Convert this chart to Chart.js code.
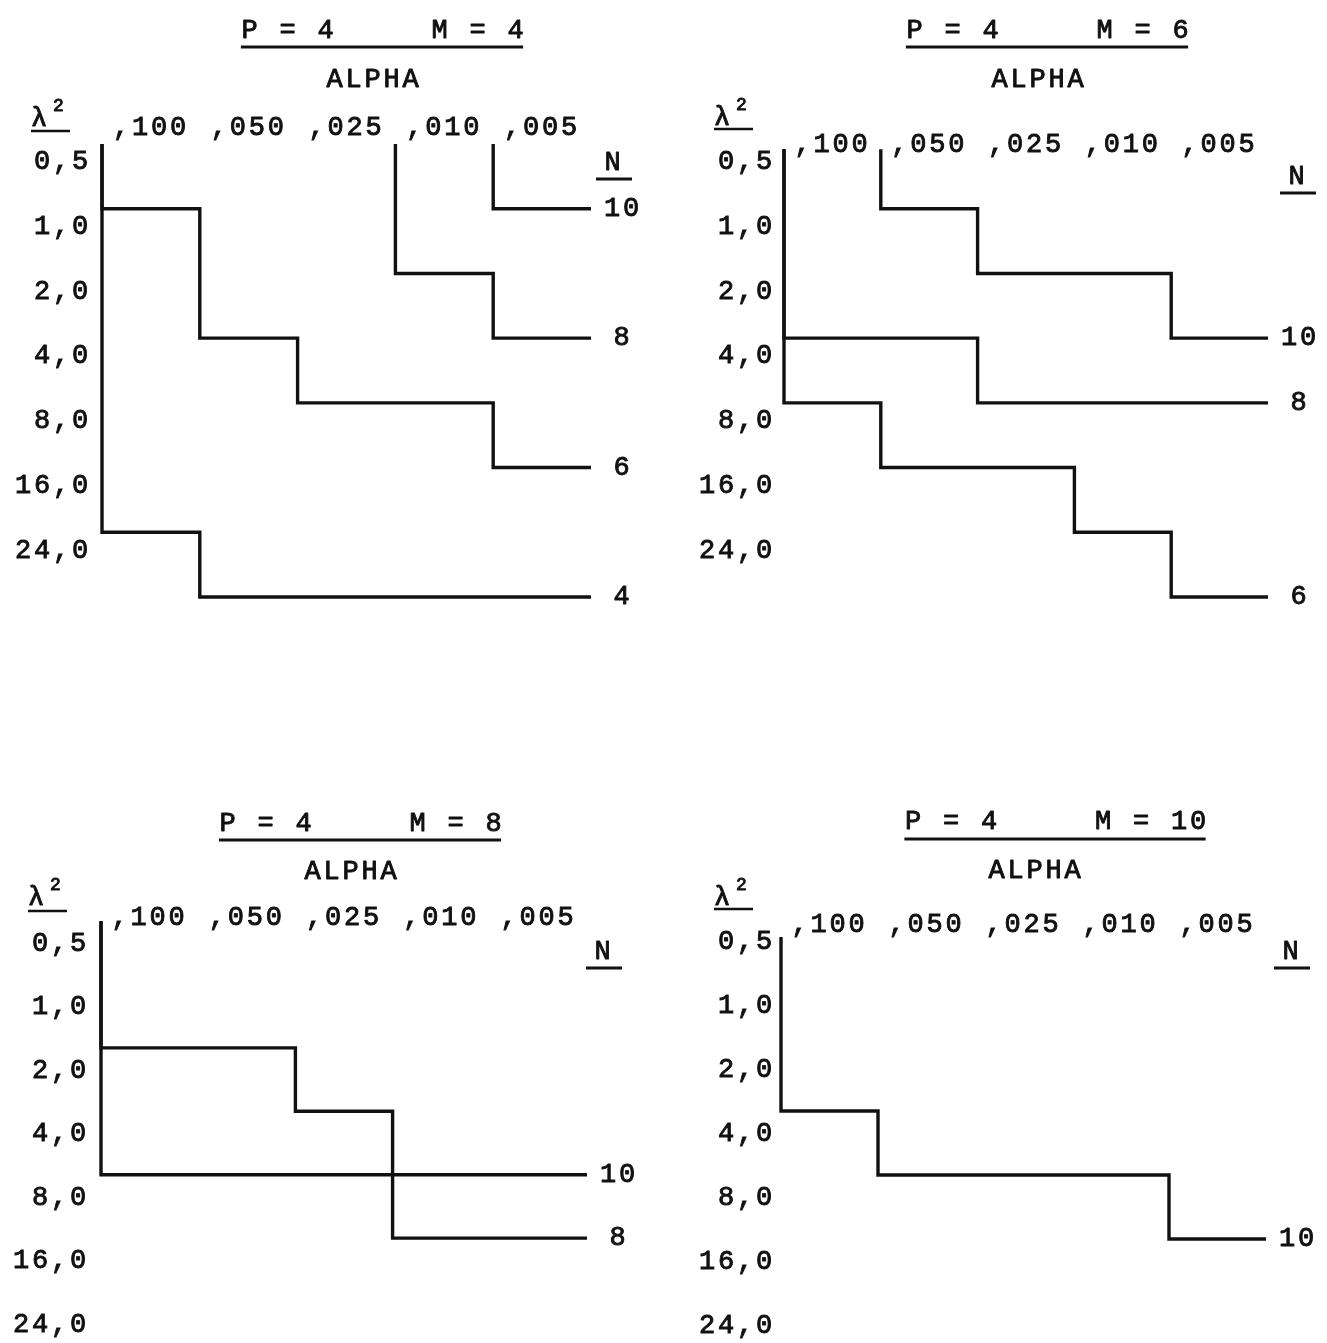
<!DOCTYPE html>
<html>
<head>
<meta charset="utf-8">
<title>P = 4 : lambda^2 / alpha</title>
<script src="https://cdn.jsdelivr.net/npm/chart.js@4.4.1/dist/chart.umd.min.js"></script>
<style>
  html, body { margin: 0; padding: 0; background: #fff; overflow: hidden; }
  body { width: 1327px; height: 1343px; position: relative; }
  canvas { position: absolute; }
</style>
</head>
<body>
<canvas id="m4" width="662" height="640" style="left:0;top:0"></canvas>
<canvas id="m6" width="662" height="640" style="left:665px;top:0"></canvas>
<canvas id="m8" width="662" height="640" style="left:0;top:790px"></canvas>
<canvas id="m10" width="662" height="640" style="left:665px;top:790px"></canvas>
<script>
// ===========================
// Data
// ===========================
const ALPHA_LABELS = [",100", ",050", ",025", ",010", ",005"];
const LAMBDA_LABELS = ["0,5", "1,0", "2,0", "4,0", "8,0", "16,0", "24,0"];

// For each alpha column: the lambda^2 row the step line sits just above
// (7 = below 24,0). null = no line in that column yet.
const M4_N = [10, 8, 6, 4];
const M4_N10 = [null, null, null, null, 1];
const M4_N8 = [null, null, null, 2, 3];
const M4_N6 = [1, 3, 4, 4, 5];
const M4_N4 = [6, 7, 7, 7, 7];

const M6_N = [10, 8, 6];
const M6_N10 = [null, 1, 2, 2, 3];
const M6_N8 = [3, 3, 4, 4, 4];
const M6_N6 = [4, 5, 5, 6, 7];

const M8_N = [10, 8];
const M8_N10 = [2, 2, 3, 4, 4];
const M8_N8 = [4, 4, 4, 5, 5];

const M10_N = [10];
const M10_N10 = [3, 4, 4, 4, 5];

// ===========================
// Style
// ===========================
const INK = "#111";
const FONT_FAMILY = "'Liberation Mono', 'DejaVu Sans Mono', monospace";
const FONT_SIZE = 27;
const SPACING = 2.8;       // typewriter pitch is wider than the font
const INK_STROKE = 0.9;    // heavier typewriter strokes
const CANVAS_W = 662;
const CANVAS_H = 640;
const AXIS_H = 40;
const LABEL_GAP = 32;

const panels = [
    {
        id: "m4", title: "P = 4     M = 4", n: M4_N, series: [M4_N10, M4_N8, M4_N6, M4_N4],
        titleX: 384, titleY: 31, titleUl: 47, alphaX: 374, alphaY: 80,
        lamX: 31, lamBase: 126, lamUl: 131, nX: 614, nY: 163, nUl: 179,
        area: { left: 102, right: 591, top: 144, bottom: 597 },
        xPad: -32.2, yPad: 11, tickShift: 0.28, start: 0
    },
    {
        id: "m6", title: "P = 4     M = 6", n: M6_N, series: [M6_N10, M6_N8, M6_N6],
        titleX: 384, titleY: 31, titleUl: 47, alphaX: 374, alphaY: 80,
        lamX: 49, lamBase: 125, lamUl: 129, nX: 633, nY: 177, nUl: 193,
        area: { left: 119, right: 603, top: 144, bottom: 597 },
        xPad: -15.2, yPad: 9, tickShift: 0.28, start: 0.08
    },
    {
        id: "m8", title: "P = 4     M = 8", n: M8_N, series: [M8_N10, M8_N8],
        titleX: 362, titleY: 34, titleUl: 50, alphaX: 352, alphaY: 82,
        lamX: 28, lamBase: 115, lamUl: 121, nX: 604, nY: 162, nUl: 178,
        area: { left: 101, right: 587, top: 131, bottom: 575 },
        xPad: -19.2, yPad: 12, tickShift: 0.36, start: 0
    },
    {
        id: "m10", title: "P = 4     M = 10", n: M10_N, series: [M10_N10],
        titleX: 392, titleY: 32, titleUl: 49, alphaX: 371, alphaY: 81,
        lamX: 49, lamBase: 115, lamUl: 119, nX: 627, nY: 162, nUl: 178,
        area: { left: 116, right: 601, top: 129, bottom: 577 },
        xPad: -10.2, yPad: 6, tickShift: 0.35, start: 0.28
    }
];

// step line: down from the top at the first column used, then across each column
function stepPoints(levels, start) {
    const pts = [];
    levels.forEach(function (lv, c) {
        if (lv === null) return;
        if (!pts.length) pts.push({ x: c - 0.5, y: start });
        pts.push({ x: c - 0.5, y: lv }, { x: c + 0.5, y: lv });
    });
    return pts;
}

function rule(ctx, x1, x2, y) {
    ctx.beginPath();
    ctx.moveTo(x1, y);
    ctx.lineTo(x2, y);
    ctx.stroke();
}

function typeText(ctx, text, x, y) {
    ctx.fillText(text, x, y);
    ctx.strokeText(text, x, y);
}

// titles, underlines, N labels and lambda^2
function typewriterPlugin(p) {
    return {
        id: "typewriter",
        beforeDraw: function (chart) {
            chart.ctx.letterSpacing = SPACING + "px";
        },
        afterDraw: function (chart) {
            const ctx = chart.ctx;
            const xs = chart.scales.x;
            const ys = chart.scales.y;
            ctx.save();
            ctx.fillStyle = INK;
            ctx.strokeStyle = INK;
            ctx.lineWidth = INK_STROKE;
            ctx.lineJoin = "round";
            ctx.font = FONT_SIZE + "px " + FONT_FAMILY;
            ctx.textAlign = "center";
            ctx.textBaseline = "middle";
            typeText(ctx, p.title, p.titleX, p.titleY);
            typeText(ctx, "ALPHA", p.alphaX, p.alphaY);
            typeText(ctx, "N", p.nX, p.nY);
            const titleW = ctx.measureText(p.title).width - SPACING;

            chart.data.datasets.forEach(function (ds) {
                const last = ds.data[ds.data.length - 1];
                typeText(ctx, ds.label, xs.getPixelForValue(last.x) + LABEL_GAP, ys.getPixelForValue(last.y));
            });

            ctx.lineWidth = 3;
            rule(ctx, p.titleX - titleW / 2 - 2, p.titleX + titleW / 2 - 2, p.titleUl);
            rule(ctx, p.nX - 18, p.nX + 18, p.nUl);
            ctx.lineWidth = 2.5;
            rule(ctx, p.lamX, p.lamX + 39, p.lamUl);

            ctx.lineWidth = INK_STROKE;
            ctx.letterSpacing = "0px";
            ctx.textAlign = "left";
            ctx.textBaseline = "alphabetic";
            ctx.font = "27px " + FONT_FAMILY;
            typeText(ctx, "\u03bb", p.lamX, p.lamBase);
            ctx.font = "18px " + FONT_FAMILY;
            typeText(ctx, "2", p.lamX + 22, p.lamBase - 15);
            ctx.restore();
        }
    };
}

// ===========================
// Charts
// ===========================
panels.forEach(function (p) {
    const font = { family: FONT_FAMILY, size: FONT_SIZE };
    new Chart(document.getElementById(p.id), {
        type: "scatter",
        data: {
            datasets: p.series.map(function (levels, i) {
                return {
                    label: String(p.n[i]),
                    data: stepPoints(levels, p.start),
                    showLine: true,
                    borderColor: INK,
                    borderWidth: 3.4,
                    borderJoinStyle: "miter",
                    borderCapStyle: "butt",
                    pointRadius: 0,
                    pointHoverRadius: 0,
                    tension: 0,
                    fill: false,
                    clip: false
                };
            })
        },
        options: {
            responsive: false,
            animation: false,
            events: [],
            layout: {
                padding: {
                    left: 0,
                    top: p.area.top - AXIS_H,
                    right: CANVAS_W - p.area.right,
                    bottom: CANVAS_H - p.area.bottom
                }
            },
            plugins: {
                legend: { display: false },
                tooltip: { enabled: false }
            },
            scales: {
                x: {
                    type: "linear",
                    position: "top",
                    min: -0.5,
                    max: 4.5,
                    grid: { display: false, drawTicks: false },
                    border: { display: false },
                    afterBuildTicks: function (axis) {
                        axis.ticks = ALPHA_LABELS.map(function (_, i) { return { value: i }; });
                    },
                    afterFit: function (axis) { axis.height = AXIS_H; },
                    ticks: {
                        autoSkip: false,
                        maxRotation: 0,
                        mirror: true,   // not clipped to the axis box
                        padding: p.xPad,
                        color: INK,
                        textStrokeColor: INK,
                        textStrokeWidth: INK_STROKE,
                        font: font,
                        callback: function (v, i) { return ALPHA_LABELS[i]; }
                    }
                },
                y: {
                    type: "linear",
                    position: "left",
                    reverse: true,
                    min: 0,
                    max: 7,
                    grid: { display: false, drawTicks: false },
                    border: { display: false },
                    afterBuildTicks: function (axis) {
                        axis.ticks = LAMBDA_LABELS.map(function (_, k) { return { value: k + p.tickShift }; });
                    },
                    afterFit: function (axis) { axis.width = p.area.left; },
                    ticks: {
                        autoSkip: false,
                        padding: p.yPad,
                        color: INK,
                        textStrokeColor: INK,
                        textStrokeWidth: INK_STROKE,
                        font: font,
                        callback: function (v, i) { return LAMBDA_LABELS[i]; }
                    }
                }
            }
        },
        plugins: [typewriterPlugin(p)]
    });
});
</script>
</body>
</html>
